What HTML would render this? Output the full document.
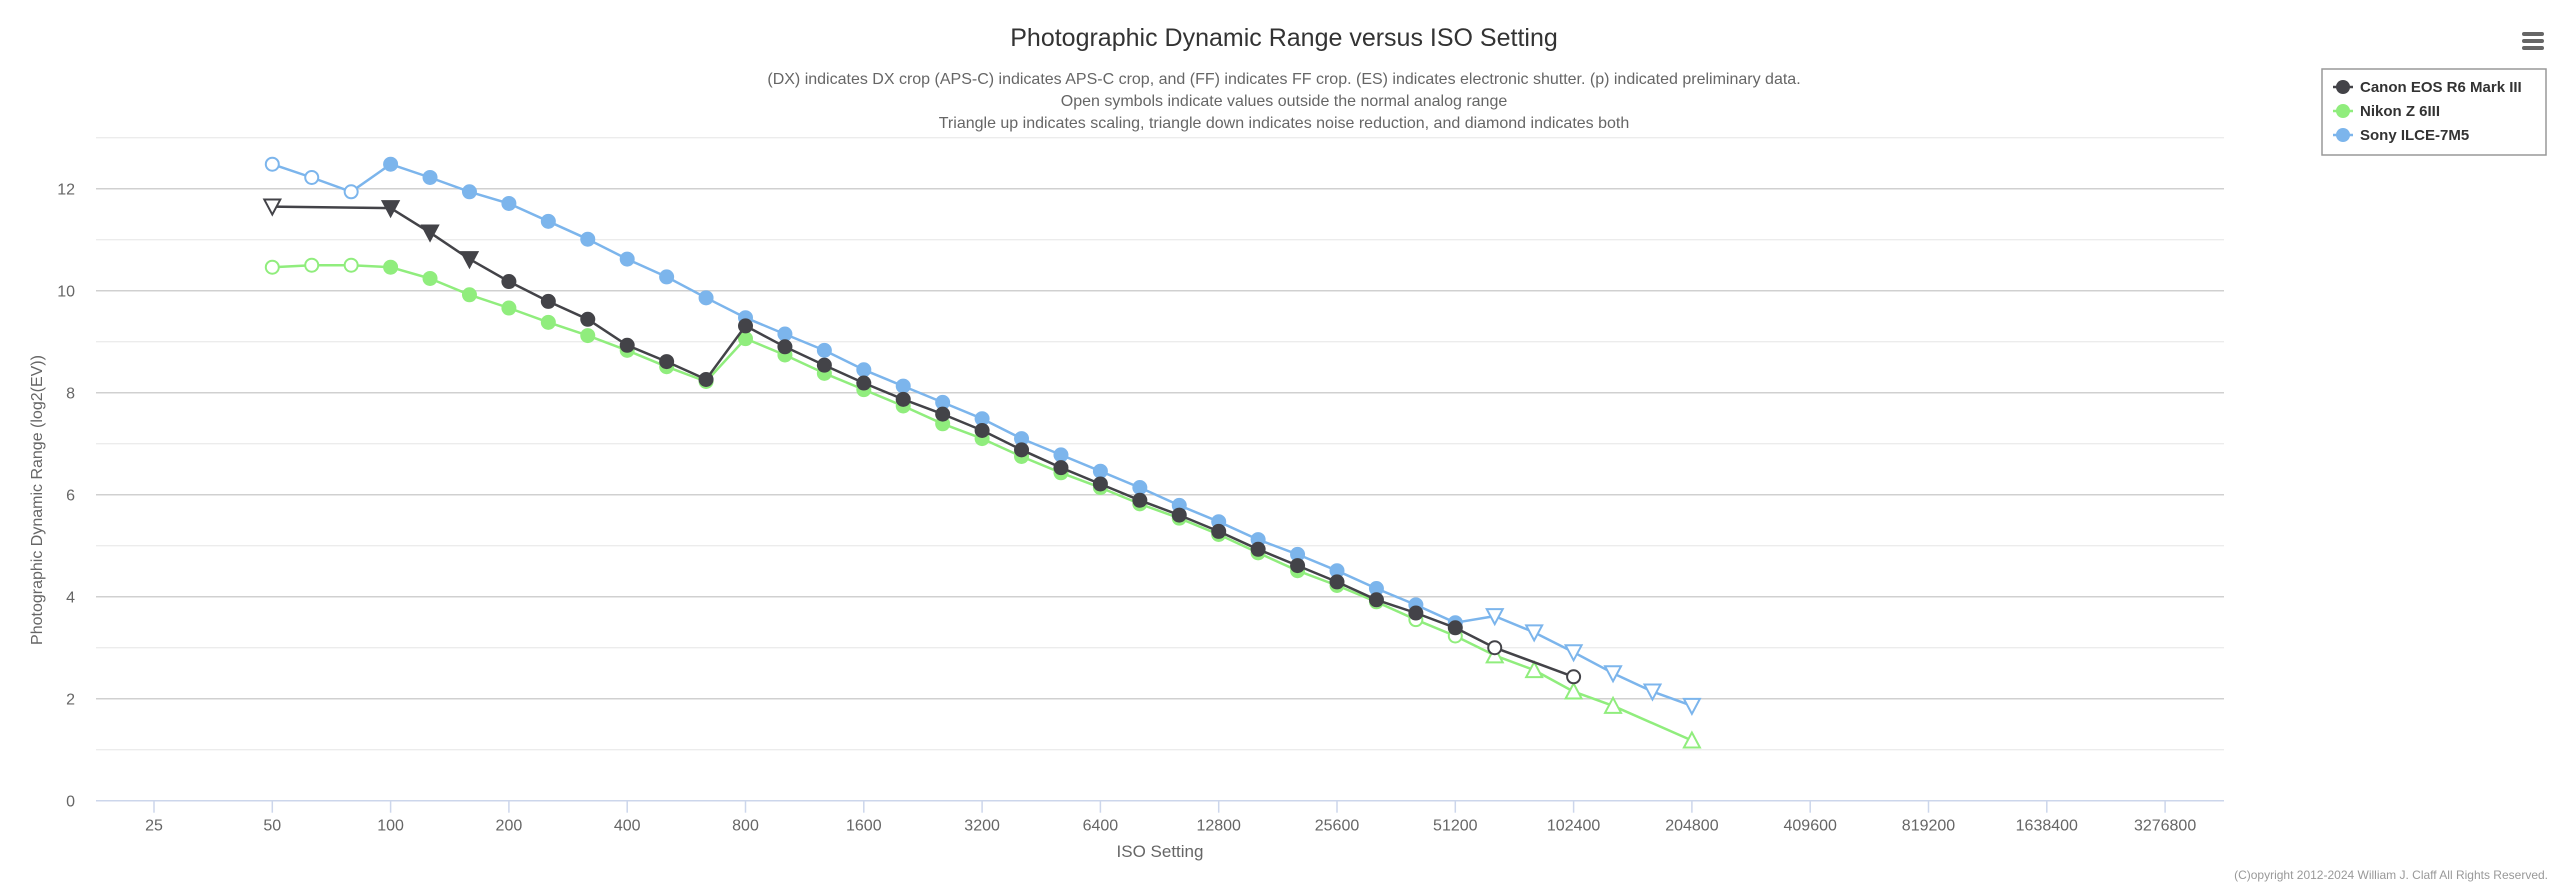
<!DOCTYPE html>
<html><head><meta charset="utf-8"><style>
html,body{margin:0;padding:0;background:#fff;}
svg{display:block;font-family:"Liberation Sans",sans-serif;}
</style></head><body>
<svg id="c" width="2560" height="892" xmlns="http://www.w3.org/2000/svg"></svg>
<script>
const S=document.getElementById('c');
let h='';
const X50=272.3, ST=118.3;
const X=n=>X50+ST*n/3;
const Xi=iso=>X50+ST*Math.log2(iso/50);
const Y=v=>800.7-51*v;
for(let v=0;v<=13;v++){const y=Y(v);h+=`<line x1="96" x2="2224" y1="${y}" y2="${y}" stroke="${v%2?'#e6e6e6':'#d0d0d0'}" stroke-width="${v%2?1:1.5}"/>`;}
h+=`<line x1="96" x2="2224" y1="${Y(0)}" y2="${Y(0)}" stroke="#ccd6eb" stroke-width="1.5"/>`;
for(let v=0;v<=12;v+=2)h+=`<text x="75" y="${Y(v)+6}" text-anchor="end" font-size="16" fill="#666">${v}</text>`;
const ticks=[25,50,100,200,400,800,1600,3200,6400,12800,25600,51200,102400,204800,409600,819200,1638400,3276800];
ticks.forEach(t=>{const x=Xi(t);h+=`<line x1="${x}" x2="${x}" y1="${Y(0)}" y2="${Y(0)+12}" stroke="#ccd6eb" stroke-width="1.5"/><text x="${x}" y="${Y(0)+30}" text-anchor="middle" font-size="16" fill="#666">${t}</text>`;});
h+=`<text x="1160" y="857" text-anchor="middle" font-size="17" fill="#666">ISO Setting</text>`;
h+=`<text transform="translate(42,500) rotate(-90)" text-anchor="middle" font-size="16" fill="#666">Photographic Dynamic Range (log2(EV))</text>`;
h+=`<text x="1284" y="46" text-anchor="middle" font-size="25" fill="#333">Photographic Dynamic Range versus ISO Setting</text>`;
['(DX) indicates DX crop (APS-C) indicates APS-C crop, and (FF) indicates FF crop. (ES) indicates electronic shutter. (p) indicated preliminary data.','Open symbols indicate values outside the normal analog range','Triangle up indicates scaling, triangle down indicates noise reduction, and diamond indicates both'].forEach((s,i)=>h+=`<text x="1284" y="${84+i*22}" text-anchor="middle" font-size="16" fill="#666">${s}</text>`);
h+=`<text x="2548" y="879" text-anchor="end" font-size="12" fill="#999">(C)opyright 2012-2024 William J. Claff All Rights Reserved.</text>`;
const sony=[[0,12.48,'o'],[1,12.22,'o'],[2,11.94,'o'],[3,12.48,'c'],[4,12.22,'c'],[5,11.94,'c'],[6,11.71,'c'],[7,11.36,'c'],[8,11.01,'c'],[9,10.62,'c'],[10,10.27,'c'],[11,9.86,'c'],[12,9.47,'c'],[13,9.15,'c'],[14,8.83,'c'],[15,8.45,'c'],[16,8.13,'c'],[17,7.81,'c'],[18,7.49,'c'],[19,7.1,'c'],[20,6.78,'c'],[21,6.46,'c'],[22,6.14,'c'],[23,5.79,'c'],[24,5.47,'c'],[25,5.12,'c'],[26,4.83,'c'],[27,4.51,'c'],[28,4.16,'c'],[29,3.84,'c'],[30,3.49,'c'],[31,3.62,'V'],[32,3.3,'V'],[33,2.91,'V'],[34,2.5,'V'],[35,2.14,'V'],[36,1.86,'V']];
const canon=[[0,11.65,'V'],[3,11.62,'v'],[4,11.14,'v'],[5,10.62,'v'],[6,10.18,'c'],[7,9.79,'c'],[8,9.44,'c'],[9,8.93,'c'],[10,8.61,'c'],[11,8.26,'c'],[12,9.31,'c'],[13,8.9,'c'],[14,8.54,'c'],[15,8.19,'c'],[16,7.87,'c'],[17,7.58,'c'],[18,7.26,'c'],[19,6.88,'c'],[20,6.53,'c'],[21,6.21,'c'],[22,5.89,'c'],[23,5.6,'c'],[24,5.28,'c'],[25,4.93,'c'],[26,4.61,'c'],[27,4.29,'c'],[28,3.94,'c'],[29,3.68,'c'],[30,3.39,'c'],[31,3.0,'o'],[33,2.43,'o']];
const nikon=[[0,10.46,'o'],[1,10.5,'o'],[2,10.5,'o'],[3,10.46,'c'],[4,10.24,'c'],[5,9.92,'c'],[6,9.66,'c'],[7,9.38,'c'],[8,9.12,'c'],[9,8.83,'c'],[10,8.51,'c'],[11,8.22,'c'],[12,9.06,'c'],[13,8.74,'c'],[14,8.38,'c'],[15,8.06,'c'],[16,7.74,'c'],[17,7.39,'c'],[18,7.1,'c'],[19,6.75,'c'],[20,6.43,'c'],[21,6.14,'c'],[22,5.82,'c'],[23,5.54,'c'],[24,5.22,'c'],[25,4.86,'c'],[26,4.51,'c'],[27,4.22,'c'],[28,3.9,'o'],[29,3.55,'o'],[30,3.23,'o'],[31,2.85,'U'],[32,2.56,'U'],[33,2.14,'U'],[34,1.86,'U'],[36,1.18,'U']];
function series(d,col){
  h+=`<polyline fill="none" stroke="${col}" stroke-width="2.5" stroke-linejoin="round" points="${d.map(p=>X(p[0]).toFixed(1)+','+Y(p[1]).toFixed(1)).join(' ')}"/>`;
  d.forEach(p=>{const x=X(p[0]),y=Y(p[1]),m=p[2];
    if(m=='c')h+=`<circle cx="${x}" cy="${y}" r="7.5" fill="${col}"/>`;
    else if(m=='o')h+=`<circle cx="${x}" cy="${y}" r="6.5" fill="#fff" stroke="${col}" stroke-width="2"/>`;
    else if(m=='v'||m=='V')h+=`<polygon points="${x-8},${y-7} ${x+8},${y-7} ${x},${y+8}" fill="${m=='v'?col:'#fff'}" stroke="${col}" stroke-width="2"/>`;
    else h+=`<polygon points="${x-8},${y+7} ${x+8},${y+7} ${x},${y-8}" fill="#fff" stroke="${col}" stroke-width="2"/>`;
  });
}
series(sony,'#7cb5ec');series(nikon,'#90ed7d');series(canon,'#434348');
h+=`<rect x="2322" y="69" width="224" height="86" fill="#fff" stroke="#999" stroke-width="1.5"/>`;
[['Canon EOS R6 Mark III','#434348'],['Nikon Z 6III','#90ed7d'],['Sony ILCE-7M5','#7cb5ec']].forEach((l,i)=>{const y=87+i*24;
h+=`<line x1="2333" x2="2353" y1="${y}" y2="${y}" stroke="${l[1]}" stroke-width="2.5"/><circle cx="2343" cy="${y}" r="7" fill="${l[1]}"/><text x="2360" y="${y+5}" font-size="15" font-weight="bold" fill="#333">${l[0]}</text>`;});
[34,41,48].forEach(y=>h+=`<rect x="2522" y="${y-2}" width="22" height="4" rx="2" fill="#666"/>`);
S.innerHTML=h;
</script>
</body></html>
